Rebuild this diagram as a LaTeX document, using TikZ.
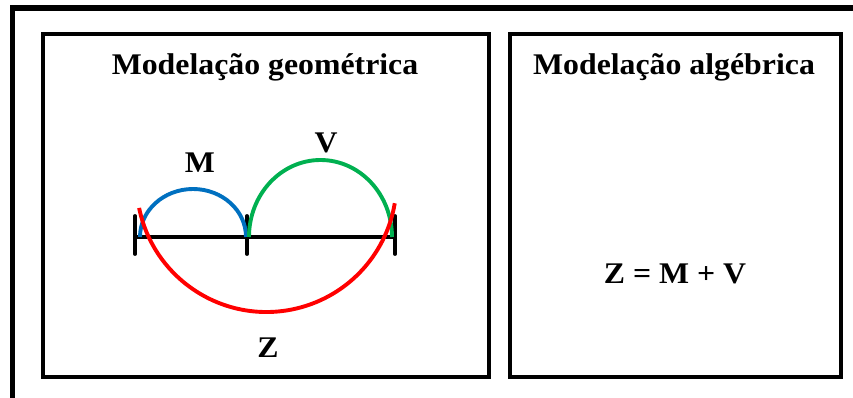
\documentclass[tikz,border=0pt]{standalone}
\usepackage{fontspec}
\setmainfont{Liberation Serif}
\definecolor{arcblue}{HTML}{0070C0}
\definecolor{arcgreen}{HTML}{00B050}
\definecolor{arcred}{HTML}{FF0000}
\begin{document}
\begin{tikzpicture}[x=1pt,y=-1pt,
  lbl/.style={font=\fontsize{30}{36}\selectfont\bfseries, inner sep=0pt, anchor=base, xscale=1.06},
  panel/.style={draw=black, line width=4.2pt},
  arcline/.style={line width=3.9pt},
  tick/.style={line width=3.9pt, line cap=round}]
\useasboundingbox (0,0) rectangle (853,398);
% outer frame (only top and left edges visible)
\draw[line width=5.5pt] (12.5,400) -- (12.5,8) -- (856,8);
% panels
\draw[panel] (43,34) rectangle (489,377);
\draw[panel] (510,34) rectangle (841,377);
% titles
\node[lbl] (t1) at (265,75) {Modelação geométrica};
\node[lbl] (t2) at (674,75) {Modelação algébrica};
% segment
\coordinate (A) at (135,237);
\coordinate (B) at (247,237);
\coordinate (C) at (395,237);
\draw[line width=3.9pt] (A) -- (C);
\foreach \p in {A,B,C} \draw[tick] ([yshift=-17pt]\p) -- ([yshift=21pt]\p);
% arcs
\draw[arcline, arcblue] (140,237) arc[start angle=180, end angle=360, x radius=53, y radius=48];
\draw[arcline, arcgreen] (249,237) arc[start angle=180, end angle=360, x radius=71.5, y radius=77];
\coordinate (O) at (266.5,182);
\draw[arcline, arcred] (O) ++(168.5:130) arc[start angle=168.5, end angle=9.4, radius=130];
% labels
\node[lbl] (M) at (200,172) {M};
\node[lbl] (V) at (326,153) {V};
\node[lbl] (Z) at (268,357) {Z};
\node[lbl] (eq) at (675,283) {Z = M + V};
\end{tikzpicture}
\end{document}
